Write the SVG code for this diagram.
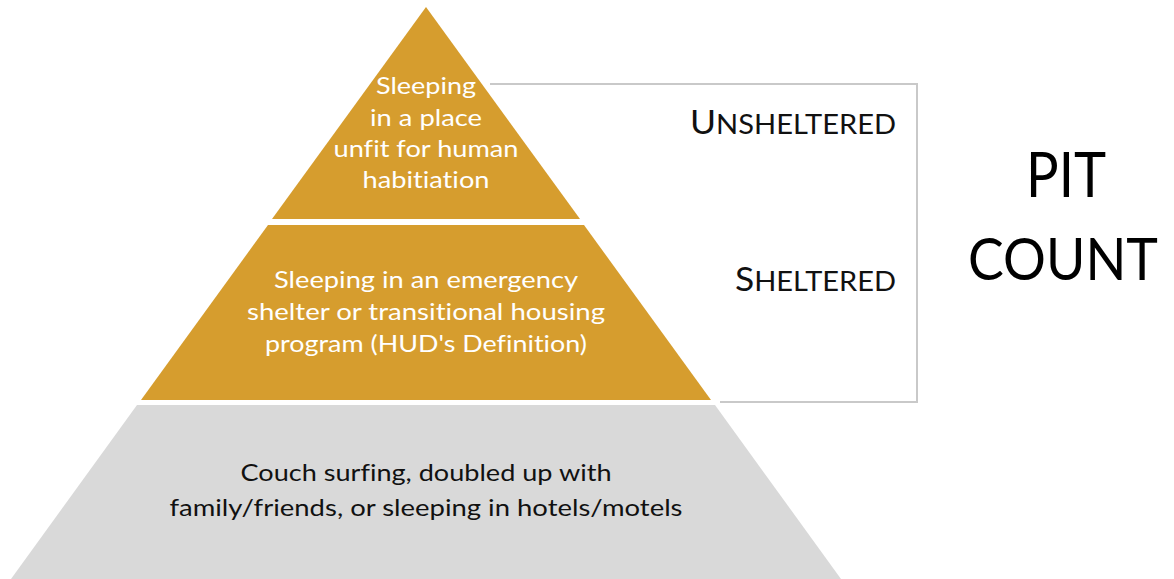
<svg xmlns="http://www.w3.org/2000/svg" width="1174" height="579" viewBox="0 0 1174 579">
<style>
text{font-variant-ligatures:none}
.gold{fill:#D69D2E}
.grey{fill:#D9D9D9}
.t{font-family:Lato,"Open Sans","Liberation Sans",sans-serif;text-anchor:middle}
.w{fill:#FFFFFF;font-size:24px}
.d{fill:#111111;font-size:24px}
.lab{font-family:Lato,"Open Sans","Liberation Sans",sans-serif;fill:#111111;text-anchor:end}
.big{font-family:Lato,"Open Sans","Liberation Sans",sans-serif;fill:#000000;font-size:62px;text-anchor:middle}
.br{fill:none;stroke:#C9C9C9;stroke-width:2}
</style>
<rect width="1174" height="579" fill="#FFFFFF"/>
<g id="connectors">
<path class="br" d="M490 84 H917 V402 H720"/>
</g>
<g id="tier-unsheltered">
<polygon class="gold" points="426,7 580,219 272,219"/>
<text class="t w"><tspan x="426" y="94" textLength="100" lengthAdjust="spacingAndGlyphs">Sleeping</tspan><tspan x="426" y="126" textLength="112" lengthAdjust="spacingAndGlyphs">in a place</tspan><tspan x="426" y="157" textLength="185" lengthAdjust="spacingAndGlyphs">unfit for human</tspan><tspan x="426" y="188" textLength="127" lengthAdjust="spacingAndGlyphs">habitiation</tspan></text>
</g>
<g id="tier-sheltered">
<polygon class="gold" points="268,225 584,225 711,400 141,400"/>
<text class="t w"><tspan x="426" y="288" textLength="304" lengthAdjust="spacingAndGlyphs">Sleeping in an emergency</tspan><tspan x="426" y="320" textLength="358" lengthAdjust="spacingAndGlyphs">shelter or transitional housing</tspan><tspan x="426" y="352" textLength="322" lengthAdjust="spacingAndGlyphs">program (HUD's Definition)</tspan></text>
</g>
<g id="tier-doubled-up">
<polygon class="grey" points="137,405 715,405 841,579 11,579"/>
<text class="t d"><tspan x="426" y="481" textLength="371" lengthAdjust="spacingAndGlyphs">Couch surfing, doubled up with</tspan><tspan x="426" y="516" textLength="513" lengthAdjust="spacingAndGlyphs">family/friends, or sleeping in hotels/motels</tspan></text>
</g>
<g id="label-unsheltered">
<text class="lab" x="896" y="134" textLength="206" lengthAdjust="spacingAndGlyphs"><tspan font-size="33">U</tspan><tspan font-size="27">NSHELTERED</tspan></text>
</g>
<g id="label-sheltered">
<text class="lab" x="896" y="291" textLength="161" lengthAdjust="spacingAndGlyphs"><tspan font-size="33">S</tspan><tspan font-size="27">HELTERED</tspan></text>
</g>
<g id="pit-count">
<text class="big" x="1066" y="197" textLength="80" lengthAdjust="spacingAndGlyphs">PIT</text>
<text class="big" x="1063" y="280" font-size="58" style="font-size:58px" textLength="190" lengthAdjust="spacingAndGlyphs">COUNT</text>
</g>
</svg>
